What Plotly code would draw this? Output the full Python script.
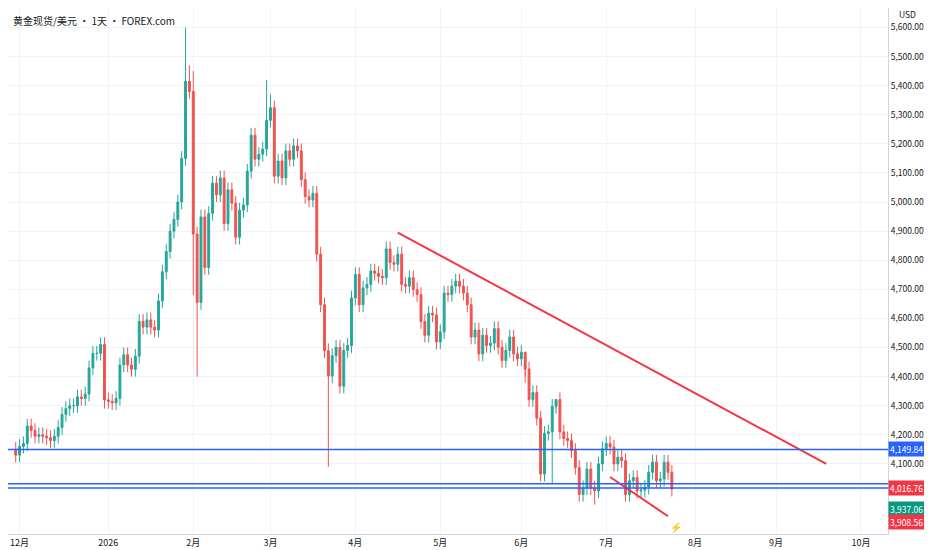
import pandas as pd
import numpy as np
import plotly.graph_objects as go

closes = [4130,4160,4170,4230,4215,4195,4200,4195,4190,4180,4195,4225,4270,4290,4300,4300,4330,4325,4340,4430,
          4480,4480,4510,4320,4315,4310,4325,4440,4475,4440,4425,4470,4590,4570,4595,4570,4560,4660,4760,4830,
          4900,4940,5000,5150,5415,5380,4890,4655,4949,4775,4961,5065,5025,5083,4926,5042,4996,4879,4972,4990,
          5106,5230,5147,5164,5182,5281,5324,5089,5141,5083,5176,5147,5193,5176,5077,5019,5007,5030,4821,4647,
          4489,4402,4472,4501,4367,4490,4507,4670,
          4751,4647,4705,4717,4763,4755,4745,4740,4839,4792,4786,4821,4717,4711,4740,4699,4682,4589,4542,4618,
          4612,4519,4554,4687,4682,4711,4728,4711,4687,4647,4536,4560,4478,4542,4507,4515,4565,4501,4455,4490,
          4536,4478,4461,4484,4426,4321,4345,4257,4065,4205,4210,4298,4321,4210,4187,4180,4146,4088,3995,4018,
          4082,4018,4007,4100,4152,4170,4158,4100,4123,4111,3995,4042,4053,4007,4010,4020,4071,4106,4042,4048,
          4106,4071,4013]
first_open = 4150
special_highs = {44: 5600, 45: 5470, 46: 5450, 65: 5420, 66: 5370, 132: 4380, 140: 4290}
special_lows = {46: 4680, 47: 4400, 81: 4090, 23: 4290, 139: 4030, 150: 3960}
hlines = [4149.84, 4031.52, 4016.76]
trend_x = ["2026-04-16", "2026-09-18"]
trend_y = [4895, 4100]
channel_x = ["2026-07-02", "2026-07-23"]
channel_y = [4055, 3920]
month_ticks = ["2025-12-01","2026-01-01","2026-02-02","2026-03-02","2026-04-01","2026-05-01","2026-06-01",
               "2026-07-01","2026-08-03","2026-09-01","2026-10-01"]
month_text = ["12月","2026","2月","3月","4月","5月","6月","7月","8月","9月","10月"]

dates = pd.bdate_range(start="2025-11-28", periods=len(closes))
c = np.array(closes, dtype=float)
o = np.concatenate([[first_open], c[:-1]])
h = np.maximum(o, c) + 25
l = np.minimum(o, c) - 25
for i, v in special_highs.items():
    h[i] = v
for i, v in special_lows.items():
    l[i] = v

fig = go.Figure()
fig.add_trace(go.Candlestick(
    x=dates, open=o, high=h, low=l, close=c,
    increasing=dict(line=dict(color="#26a69a", width=1), fillcolor="#26a69a"),
    decreasing=dict(line=dict(color="#ef5350", width=1), fillcolor="#ef5350"),
    whiskerwidth=0, showlegend=False
))
for y in hlines:
    fig.add_hline(y=y, line=dict(color="#2962ff", width=1.5))
fig.add_trace(go.Scatter(x=trend_x, y=trend_y, mode="lines", line=dict(color="#f23645", width=2), showlegend=False))
fig.add_trace(go.Scatter(x=channel_x, y=channel_y, mode="lines", line=dict(color="#f23645", width=2), showlegend=False))

labels = [(4149.84, "4,149.84", "#2962ff", 0), (4016.76, "4,016.76", "#f23645", 0),
          (3937.06, "3,937.06", "#089981", 2), (3908.56, "3,908.56", "#f23645", -2)]
for y, t, col, sh in labels:
    fig.add_annotation(x=1.0, xref="paper", y=y, yref="y", text=t, showarrow=False, xanchor="left",
                       yshift=sh, bgcolor=col, font=dict(color="white", size=8.5), borderpad=1)
fig.add_annotation(x=1.01, xref="paper", y=1.0, yref="paper", text="USD", showarrow=False, xanchor="left",
                   yanchor="top", yshift=2, font=dict(size=8.5, color="#131722"))
fig.add_annotation(x=0.003, xref="paper", y=0.995, yref="paper", text="黄金现货/美元 · 1天 · FOREX.com",
                   showarrow=False, xanchor="left", yanchor="top", font=dict(size=10, color="#131722"))
fig.add_annotation(x="2026-07-27", y=3885, text="⚡", showarrow=False, font=dict(size=10, color="#f23645"))

fig.update_layout(
    width=932, height=550, margin=dict(l=0, r=52, t=0, b=24),
    plot_bgcolor="white", paper_bgcolor="white",
    font=dict(family="Noto Sans CJK SC, Roboto", size=9, color="#131722"),
    xaxis=dict(rangeslider=dict(visible=False), rangebreaks=[dict(bounds=["sat", "mon"])],
               range=["2025-11-26", "2026-10-12"], tickvals=month_ticks, ticktext=month_text,
               showgrid=True, gridcolor="#f0f3fa", showline=True, linecolor="#d1d4dc", ticks=""),
    yaxis=dict(side="right", range=[3859, 5667], tickvals=list(range(4100, 5700, 100)),
               tickformat=",.2f", showgrid=True, gridcolor="#f0f3fa", showline=True, linecolor="#d1d4dc",
               zeroline=False, tickfont=dict(size=8.5))
)
fig.write_html("out.html")
